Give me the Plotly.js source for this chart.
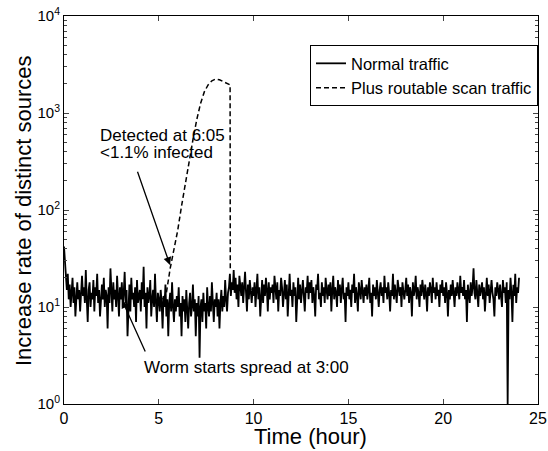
<!DOCTYPE html>
<html>
<head>
<meta charset="utf-8">
<script src="https://cdn.plot.ly/plotly-3.0.1.min.js"></script>
<style>html,body{margin:0;padding:0;background:#fff;}#chart{width:548px;height:451px;}</style>
</head>
<body>
<div id="chart"></div>
<script>
// Normal traffic: sampled every 0.05 hour from 0 to 24 (20 samples per hour row)
var sampleStep = 0.05;
var normalTraffic = [
  42,30,19,15,22,12,17,10,14,20,11,16,8,13,18,12,15,9,14,21,
  13,16,11,24,12,7,15,18,10,14,12,19,9,16,13,22,11,15,8,14,
  17,12,20,10,15,13,6,16,11,25,14,9,18,12,15,10,21,13,8,16,
  12,18,10,14,23,11,15,5,13,17,9,20,12,14,10,16,7,19,11,13,
  15,9,18,12,26,10,14,6,16,11,13,19,8,12,15,10,22,11,7,14,
  12,9,15,11,6,13,10,17,8,12,5,11,14,9,18,10,7,12,9,13,
  10,16,8,11,5,13,9,12,7,15,10,6,11,14,8,10,17,9,12,5,
  11,8,13,3,10,12,7,14,9,11,6,16,10,8,13,9,18,11,7,12,
  10,14,8,12,6,11,15,9,13,10,19,12,9,14,16,22,13,18,15,24,
  14,20,12,17,10,21,15,13,18,11,16,23,14,9,17,12,19,15,11,16,
  13,18,10,15,22,12,16,8,14,19,11,17,13,20,15,9,18,12,16,14,
  17,11,21,14,12,18,9,15,13,20,16,10,14,19,12,17,8,15,22,13,
  15,10,18,13,16,7,14,20,12,17,11,15,19,13,9,16,14,21,12,18,
  14,19,11,16,13,8,17,15,22,12,14,10,18,13,16,11,20,15,12,17,
  13,18,9,15,21,12,16,14,10,19,13,17,11,15,20,12,14,7,16,13,
  18,12,15,10,17,14,22,11,16,13,9,18,15,12,19,14,11,16,13,17,
  12,15,20,11,14,8,17,13,16,12,19,14,10,15,18,13,16,11,21,14,
  16,12,18,14,9,15,13,22,12,17,14,11,19,15,13,16,10,18,14,12,
  15,20,13,17,11,16,14,8,18,13,15,21,12,16,14,10,17,13,19,15,
  12,17,14,9,16,13,18,15,11,20,14,16,12,18,13,15,10,17,14,19,
  13,16,11,18,14,8,15,12,17,13,19,14,10,16,13,18,15,12,21,14,
  16,13,19,12,15,7,17,14,11,18,13,16,25,14,12,19,15,10,17,13,
  15,18,12,16,9,14,20,13,17,11,15,19,14,12,8,16,13,18,15,12,
  17,13,10,19,14,16,11,18,1,15,12,20,14,7,17,13,22,11,16,14,
  20
];
var normalTime = normalTraffic.map(function(v, i){ return +(i*sampleStep).toFixed(2); });

// Plus routable scan traffic (where it departs from normal traffic)
var scanTime = [5.2,5.4,5.6,5.8,6.0,6.2,6.4,6.6,6.8,7.0,7.2,7.4,7.6,7.8,8.0,8.2,8.4,8.6,8.76,8.77];
var scanTraffic = [12,14,25,38,62,110,190,320,530,850,1250,1650,1950,2150,2240,2200,2100,2000,1950,24];

var yTickVals = [1,10,100,1000,10000];
var yTickText = ['10<sup>0</sup>','10<sup>1</sup>','10<sup>2</sup>','10<sup>3</sup>','10<sup>4</sup>'];
var xTickVals = [0,5,10,15,20,25];

var minorY = [];
for (var d = 0; d < 4; d++) for (var m = 2; m <= 9; m++) minorY.push(m*Math.pow(10,d));

var font = 'Liberation Sans, Arial, Helvetica, sans-serif';

var traces = [
  {x: normalTime, y: normalTraffic, type: 'scatter', mode: 'lines', name: 'Normal traffic',
   line: {color: '#000', width: 1.8}},
  {x: scanTime, y: scanTraffic, type: 'scatter', mode: 'lines', name: 'Plus routable scan traffic',
   line: {color: '#000', width: 1.5, dash: '5px,3px'}}
];

var layout = {
  width: 548, height: 451,
  margin: {l: 64, r: 10, t: 16, b: 47},
  paper_bgcolor: '#fff', plot_bgcolor: '#fff',
  font: {family: font, size: 14, color: '#000'},
  showlegend: true,
  legend: {x: 1, xanchor: 'right', y: 0.925, yanchor: 'top', bgcolor: '#fff',
           bordercolor: '#000', borderwidth: 1, font: {size: 16.5, family: font},
           tracegroupgap: 0, itemwidth: 30},
  xaxis: {range: [0, 25], tickvals: xTickVals, ticks: 'inside', ticklen: 5,
          showline: true, linecolor: '#000', linewidth: 1, mirror: 'allticks',
          showgrid: false, zeroline: false, tickfont: {size: 16}},
  yaxis: {type: 'log', range: [0, 4], tickvals: yTickVals, ticktext: yTickText,
          ticks: 'inside', ticklen: 5, showline: true, linecolor: '#000', linewidth: 1,
          mirror: 'allticks', showgrid: false, zeroline: false, tickfont: {size: 15},
          minor: {tickvals: minorY, ticks: 'inside', ticklen: 3, showgrid: false}},
  annotations: [
    {xref: 'paper', yref: 'paper', x: 0.521, y: -0.085, yanchor: 'middle', xanchor: 'center',
     text: 'Time (hour)', showarrow: false, font: {size: 22}},
    {xref: 'paper', yref: 'paper', x: -0.0865, y: 0.5, xanchor: 'center', yanchor: 'middle',
     text: 'Increase rate of distinct sources', textangle: -90, showarrow: false, font: {size: 22}},
    {xref: 'x', yref: 'y', x: 1.79, y: 2.763, xanchor: 'left', yanchor: 'middle', align: 'left',
     text: 'Detected at 6:05', showarrow: false, font: {size: 17}},
    {xref: 'x', yref: 'y', x: 1.79, y: 2.588, xanchor: 'left', yanchor: 'middle', align: 'left',
     text: '&lt;1.1% infected', showarrow: false, font: {size: 17}},
    {xref: 'x', yref: 'y', x: 5.59, y: 1.433, axref: 'x', ayref: 'y', ax: 3.85, ay: 2.41,
     text: '', showarrow: true, arrowhead: 2, arrowsize: 1.2, arrowwidth: 1.3, arrowcolor: '#000'},
    {xref: 'x', yref: 'y', x: 4.11, y: 0.38, xanchor: 'left', yanchor: 'middle',
     text: 'Worm starts spread at 3:00', showarrow: false, font: {size: 17}},
    {xref: 'x', yref: 'y', x: 3.06, y: 1.07, axref: 'x', ayref: 'y', ax: 4.32, ay: 0.526,
     text: '', showarrow: true, arrowhead: 2, arrowsize: 1.2, arrowwidth: 1.3, arrowcolor: '#000'}
  ]
};

Plotly.newPlot('chart', traces, layout, {displayModeBar: false, staticPlot: true});
</script>
</body>
</html>
